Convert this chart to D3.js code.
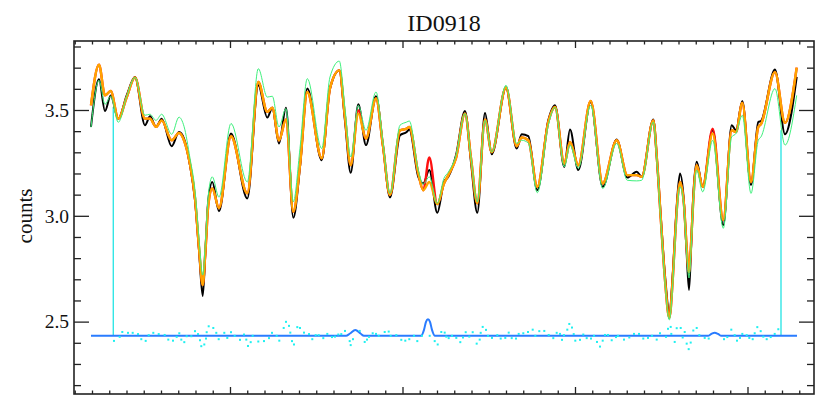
<!DOCTYPE html>
<html><head><meta charset="utf-8">
<script src="https://cdn.jsdelivr.net/npm/d3@7"></script>
<style>body{margin:0;background:#fff}svg{display:block}</style>
</head><body><svg id="c" width="822" height="411"></svg>
<script>
const title = "ID0918";
const yLabel = "counts";
const xDomain = [0.957, 43.855];
const yDomain = [2.158, 3.826];
const yMajorTicks = [2.5, 3.0, 3.5];
const yTickLabels = ["2.5", "3.0", "3.5"];
const yMinorTicks = [2.2,2.3,2.4,2.6,2.7,2.8,2.9,3.1,3.2,3.3,3.4,3.6,3.7,3.8];
const xMajorTicks = [10, 20, 30, 40];
const xMinorTicks = [1,2,3,4,5,6,7,8,9,11,12,13,14,15,16,17,18,19,21,22,23,24,25,26,27,28,29,31,32,33,34,35,36,37,38,39,41,42,43];

const xs = [1.942,2.406,2.754,3.084,3.525,4.012,4.493,5.072,5.362,5.710,
6.041,6.620,7.043,7.333,7.681,7.971,8.203,8.417,8.580,8.742,
8.974,9.362,10.058,11.003,11.641,12.162,12.452,12.841,13.246,13.670,
14.058,14.481,15.316,15.797,16.336,16.667,16.997,17.438,17.884,18.464,
18.870,19.275,19.855,20.243,20.394,20.916,21.206,21.554,22.017,22.406,
22.655,23.101,23.623,23.971,24.336,24.783,25.171,26.000,26.620,26.910,
27.293,27.814,28.452,28.841,29.380,29.710,30.191,30.910,31.606,32.417,
33.032,33.577,33.867,34.539,34.754,34.986,35.217,35.467,35.681,35.826,
35.942,36.087,36.319,36.464,36.609,36.725,36.841,37.055,37.403,37.983,
38.597,39.084,39.333,39.699,40.203,40.626,40.783,41.594,42.174,42.852];

const black = [3.420,3.645,3.495,3.569,3.459,3.569,3.656,3.428,3.470,3.420,
3.459,3.329,3.396,3.365,3.239,3.074,2.838,2.621,2.838,3.074,
3.160,3.022,3.389,3.082,3.617,3.464,3.511,3.342,3.511,2.991,
3.231,3.601,3.263,3.601,3.687,3.447,3.203,3.527,3.334,3.565,
3.329,3.087,3.381,3.396,3.408,3.184,3.153,3.216,3.014,3.160,
3.184,3.286,3.495,3.253,3.014,3.486,3.291,3.606,3.318,3.385,
3.376,3.121,3.451,3.522,3.231,3.408,3.216,3.538,3.137,3.360,
3.181,3.208,3.184,3.455,3.263,2.980,2.720,2.547,2.744,2.956,
3.098,3.200,3.060,2.838,2.650,2.838,3.074,3.255,3.137,3.404,
2.956,3.428,3.404,3.543,3.145,3.443,3.448,3.691,3.385,3.656];

const orange = [3.522,3.714,3.569,3.590,3.459,3.560,3.654,3.459,3.459,3.420,
3.451,3.357,3.392,3.357,3.244,3.084,2.848,2.673,2.838,3.051,
3.129,3.036,3.376,3.106,3.632,3.491,3.511,3.357,3.455,3.019,
3.239,3.585,3.272,3.602,3.687,3.466,3.239,3.483,3.365,3.554,
3.329,3.098,3.404,3.412,3.420,3.200,3.121,3.160,3.055,3.153,
3.192,3.272,3.483,3.272,3.059,3.455,3.301,3.606,3.329,3.370,
3.357,3.137,3.443,3.514,3.247,3.349,3.239,3.543,3.153,3.357,
3.192,3.192,3.184,3.451,3.263,2.970,2.697,2.518,2.720,2.933,
3.074,3.160,3.051,2.862,2.734,2.862,3.051,3.239,3.137,3.389,
2.980,3.404,3.396,3.533,3.160,3.420,3.433,3.679,3.439,3.700];

const red = [3.522,3.714,3.569,3.590,3.459,3.560,3.654,3.459,3.459,3.420,
3.451,3.357,3.392,3.357,3.244,3.084,2.848,2.673,2.838,3.051,
3.129,3.036,3.376,3.106,3.632,3.491,3.511,3.357,3.455,3.019,
3.239,3.585,3.272,3.602,3.687,3.466,3.239,3.498,3.365,3.554,
3.329,3.098,3.404,3.412,3.420,3.200,3.121,3.276,3.055,3.153,
3.192,3.272,3.483,3.272,3.059,3.455,3.301,3.606,3.329,3.370,
3.357,3.137,3.443,3.514,3.247,3.349,3.239,3.543,3.153,3.357,
3.192,3.192,3.184,3.451,3.263,2.970,2.697,2.518,2.720,2.933,
3.074,3.160,3.051,2.862,2.734,2.862,3.051,3.239,3.137,3.412,
2.980,3.404,3.396,3.533,3.160,3.420,3.433,3.679,3.439,3.700];

const green = [3.418,3.640,3.527,3.565,3.442,3.565,3.654,3.475,3.480,3.451,
3.480,3.385,3.466,3.423,3.272,3.121,2.895,2.720,2.885,3.098,
3.184,3.088,3.436,3.160,3.695,3.561,3.565,3.420,3.507,3.066,
3.319,3.648,3.318,3.656,3.731,3.507,3.278,3.522,3.404,3.585,
3.348,3.106,3.428,3.443,3.448,3.216,3.150,3.184,3.059,3.178,
3.206,3.286,3.483,3.277,3.066,3.451,3.301,3.617,3.342,3.357,
3.344,3.109,3.428,3.513,3.231,3.334,3.224,3.522,3.129,3.342,
3.168,3.165,3.168,3.443,3.253,2.956,2.683,2.508,2.697,2.909,
3.051,3.137,3.036,2.838,2.706,2.838,3.036,3.216,3.113,3.357,
2.941,3.373,3.389,3.475,3.106,3.357,3.373,3.601,3.334,3.569];

const fitEdgeX = [3.235, 41.942];
const fitEdgeTop = [3.514, 3.404];
const baseline = 2.433;

const blueX = [1.942,16.725,16.957,17.264,17.565,17.768,21.072,21.246,21.362,21.478,21.594,21.710,21.884,37.710,37.913,38.099,38.290,38.481,42.870];
const blueY = [2.433,2.433,2.444,2.461,2.444,2.433,2.433,2.461,2.499,2.511,2.499,2.461,2.433,2.433,2.442,2.448,2.442,2.433,2.433];

const resX = [3.275,3.606,3.757,4.087,4.359,4.667,4.858,5.113,5.287,5.554,
5.867,6.214,6.423,6.696,6.910,7.061,7.177,7.351,7.490,7.757,
7.971,8.145,8.261,8.336,8.510,8.609,8.649,8.765,9.032,9.206,
9.345,9.670,9.843,10.058,10.272,10.580,10.812,10.945,11.043,11.200,
11.316,11.641,11.971,12.261,12.435,12.707,12.858,13.113,13.246,13.420,
13.496,13.594,13.710,13.901,14.058,14.290,14.580,14.771,14.968,15.142,
15.409,15.641,15.913,16.087,16.278,16.452,16.667,16.939,16.997,17.130,
17.519,17.809,17.942,18.058,18.272,18.464,18.620,18.968,19.200,19.316,
19.641,19.930,20.162,20.394,20.667,20.858,21.130,21.577,21.867,22.041,
22.249,22.446,22.539,22.678,22.870,23.119,23.351,23.507,23.664,23.872,
24.070,24.301,24.475,24.533,24.649,24.841,24.957,25.188,25.496,25.693,
25.959,26.157,26.330,26.580,26.736,27.003,27.275,27.548,27.699,27.930,
28.220,28.475,28.742,28.939,29.130,29.246,29.362,29.554,29.670,29.826,
29.925,30.017,30.290,30.481,30.678,30.928,31.101,31.275,31.449,31.606,
31.739,31.913,32.128,32.377,32.493,32.841,33.148,33.420,33.710,33.959,
34.232,34.464,34.736,34.928,35.275,35.391,35.548,35.583,35.780,35.896,
36.128,36.243,36.359,36.475,36.591,36.707,36.858,37.055,37.206,37.519,
37.751,38.638,38.829,39.061,39.258,39.391,39.565,39.699,39.954,40.104,
40.301,40.417,40.568,40.765,40.916,41.113,41.345,41.577,41.786];
const resY = [2.409,2.428,2.451,2.447,2.447,2.441,2.417,2.409,2.436,2.447,
2.441,2.437,2.415,2.410,2.428,2.445,2.415,2.403,2.431,2.431,
2.455,2.441,2.412,2.384,2.392,2.420,2.450,2.478,2.470,2.447,
2.417,2.447,2.423,2.450,2.433,2.414,2.439,2.415,2.385,2.403,
2.433,2.406,2.408,2.422,2.447,2.433,2.410,2.470,2.499,2.480,
2.448,2.408,2.392,2.474,2.470,2.448,2.441,2.417,2.436,2.436,
2.422,2.442,2.427,2.429,2.439,2.441,2.456,2.408,2.389,2.417,
2.456,2.404,2.415,2.428,2.445,2.442,2.433,2.451,2.453,2.433,
2.436,2.414,2.410,2.417,2.433,2.408,2.433,2.433,2.408,2.392,
2.451,2.448,2.429,2.422,2.433,2.423,2.403,2.425,2.450,2.429,
2.450,2.396,2.415,2.447,2.475,2.461,2.433,2.423,2.436,2.420,
2.423,2.448,2.422,2.420,2.442,2.445,2.451,2.462,2.433,2.455,
2.456,2.437,2.422,2.447,2.442,2.414,2.436,2.462,2.489,2.472,
2.441,2.410,2.414,2.439,2.422,2.420,2.433,2.404,2.382,2.410,
2.437,2.437,2.412,2.427,2.433,2.415,2.425,2.442,2.442,2.420,
2.423,2.433,2.415,2.445,2.428,2.466,2.475,2.442,2.404,2.469,
2.470,2.425,2.451,2.396,2.370,2.401,2.458,2.470,2.436,2.423,
2.420,2.417,2.427,2.462,2.436,2.410,2.423,2.442,2.436,2.423,
2.417,2.445,2.474,2.455,2.429,2.417,2.427,2.442,2.464];

const svg = d3.select("#c");
const L = 74, R = 814, T = 41, B = 394;
const x = d3.scaleLinear().domain(xDomain).range([L, R]);
const y = d3.scaleLinear().domain(yDomain).range([B, T]);
const serif = "'Liberation Serif','Times New Roman',serif";
const axisColor = "#222";

// cyan fit-edge lines
svg.append("g").selectAll("line").data(fitEdgeX).join("line")
  .attr("x1", d => x(d)).attr("x2", d => x(d))
  .attr("y1", (d, i) => y(fitEdgeTop[i])).attr("y2", y(baseline))
  .attr("stroke", "#33e6e6").attr("stroke-width", 1.4);

// blue gaussian components line
const blueLine = d3.line().x(d => x(d[0])).y(d => y(d[1])).curve(d3.curveMonotoneX);
svg.append("path").datum(blueX.map((v, i) => [v, blueY[i]]))
  .attr("d", blueLine).attr("fill", "none").attr("stroke", "#2a7cff").attr("stroke-width", 2);

// residual points
svg.append("g").selectAll("rect").data(resX.map((v, i) => [v, resY[i]])).join("rect")
  .attr("x", d => x(d[0]) - 1).attr("y", d => y(d[1]) - 1)
  .attr("width", 2).attr("height", 2).attr("fill", "#1ef0f0");

const line = d3.line().x((d, i) => x(xs[i])).y(d => y(d)).curve(d3.curveMonotoneX);
svg.append("path").datum(black).attr("d", line).attr("fill", "none").attr("stroke", "#000").attr("stroke-width", 2);
svg.append("path").datum(red).attr("d", line).attr("fill", "none").attr("stroke", "#ff1010").attr("stroke-width", 2.4);
svg.append("path").datum(orange).attr("d", line).attr("fill", "none").attr("stroke", "#ffa500").attr("stroke-width", 2.4);
svg.append("path").datum(green).attr("d", line).attr("fill", "none").attr("stroke", "#3ef07c").attr("stroke-width", 1);

// axes
function styleAxis(g) {
  g.select(".domain").remove();
  g.selectAll(".tick line").attr("stroke", axisColor).attr("stroke-width", 1.3);
  g.selectAll(".tick text").attr("font-family", serif).attr("font-size", 19.5).attr("fill", "#111");
}
svg.append("g").attr("transform", `translate(${L},0)`)
  .call(d3.axisLeft(y).tickValues(yMinorTicks).tickSize(-7).tickFormat("")).call(styleAxis);
svg.append("g").attr("transform", `translate(${L},0)`)
  .call(d3.axisLeft(y).tickValues(yMajorTicks).tickSize(-15).tickPadding(5)
    .tickFormat((d, i) => yTickLabels[i])).call(styleAxis);
svg.append("g").attr("transform", `translate(${R},0)`)
  .call(d3.axisRight(y).tickValues(yMinorTicks).tickSize(-7).tickFormat("")).call(styleAxis);
svg.append("g").attr("transform", `translate(${R},0)`)
  .call(d3.axisRight(y).tickValues(yMajorTicks).tickSize(-15).tickFormat("")).call(styleAxis);
svg.append("g").attr("transform", `translate(0,${B})`)
  .call(d3.axisBottom(x).tickValues(xMinorTicks).tickSize(-3.5).tickFormat("")).call(styleAxis);
svg.append("g").attr("transform", `translate(0,${B})`)
  .call(d3.axisBottom(x).tickValues(xMajorTicks).tickSize(-7).tickFormat("")).call(styleAxis);
svg.append("g").attr("transform", `translate(0,${T})`)
  .call(d3.axisTop(x).tickValues(xMinorTicks).tickSize(-3.5).tickFormat("")).call(styleAxis);
svg.append("g").attr("transform", `translate(0,${T})`)
  .call(d3.axisTop(x).tickValues(xMajorTicks).tickSize(-7).tickFormat("")).call(styleAxis);

svg.append("rect").attr("x", L).attr("y", T).attr("width", R - L).attr("height", B - T)
  .attr("fill", "none").attr("stroke", axisColor).attr("stroke-width", 1.6);

svg.append("text").attr("x", (L + R) / 2).attr("y", 31).attr("text-anchor", "middle")
  .attr("font-family", serif).attr("font-size", 24).attr("fill", "#111").text(title);
svg.append("text").attr("transform", `translate(32,216) rotate(-90)`)
  .attr("text-anchor", "middle").attr("font-family", serif).attr("font-size", 21).attr("fill", "#111").text(yLabel);
</script></body></html>
